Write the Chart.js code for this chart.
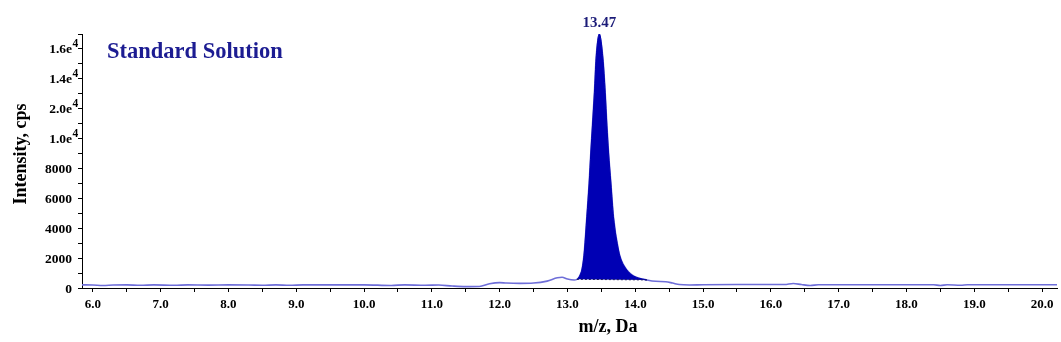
<!DOCTYPE html>
<html>
<head>
<meta charset="utf-8">
<title>Standard Solution</title>
<script src="https://cdn.jsdelivr.net/npm/chart.js@4.4.1/dist/chart.umd.min.js"></script>
<style>
  body { margin: 0; background: #fff; }
  #wrap { width: 1061px; height: 342px; }
</style>
</head>
<body>
<div id="wrap"><canvas id="spectrum"></canvas></div>
<script>
// trace outside the peak (m/z, intensity in cps)
const traceMz = [5.84, 6.0, 6.15, 6.3, 6.5, 6.7, 6.9, 7.2, 7.4, 7.7, 8.0, 8.3, 8.5, 8.7, 8.9, 9.1, 9.5,
  10.0, 10.4, 10.6, 10.9, 11.1, 11.3, 11.5, 11.7, 11.85, 12.0, 12.1, 12.3, 12.5, 12.7, 12.85, 12.92,
  13.0, 13.1, 13.139,
  14.171, 14.3, 14.45, 14.55, 14.65, 14.8, 15.0, 15.5, 16.0, 16.2, 16.33, 16.45, 16.58, 16.7, 17.0,
  17.5, 18.0, 18.4, 18.5, 18.6, 18.8, 18.9, 19.5, 20.0, 20.22];
const traceIntensity = [210, 200, 170, 200, 210, 180, 210, 180, 210, 190, 210, 200, 180, 210, 180, 210, 210,
  210, 170, 210, 180, 200, 130, 90, 100, 280, 360, 330, 310, 330, 460, 680, 720,
  600, 540, 580,
  540, 450, 420, 330, 230, 200, 220, 230, 230, 230, 300, 230, 170, 220, 220,
  220, 220, 220, 170, 220, 180, 220, 220, 220, 220];

// integrated peak
const peakMz = [13.139, 13.162, 13.187, 13.212, 13.236, 13.251, 13.286, 13.320, 13.345, 13.369, 13.398,
  13.423, 13.47, 13.522, 13.556, 13.581, 13.605, 13.640, 13.678, 13.752, 13.792, 13.876, 13.950,
  14.043, 14.171];
const peakIntensity = [580, 670, 870, 1200, 1870, 2540, 4770, 7020, 9100, 10900, 13100,
  15390, 17000, 15390, 13100, 10900, 9100, 7020, 4770, 2540, 1870, 1200, 870,
  670, 540];
const peakBaseMz = [13.139, 14.171];
const peakBaseIntensity = [580, 540];
const apexLabel = '13.47';

const yTickValues = [0, 2000, 4000, 6000, 8000, 10000, 12000, 14000, 16000];
const yTickLabels = ['0', '2000', '4000', '6000', '8000', '1.0e4', '2.0e4', '1.4e4', '1.6e4'];

const serif = '"Liberation Serif", "Times New Roman", serif';

function toPoints(xs, ys) {
  return xs.map((x, i) => ({ x: x, y: ys[i] }));
}

const tracePoints = toPoints(traceMz.slice(0, 36), traceIntensity.slice(0, 36))
  .concat(toPoints(peakMz, peakIntensity).slice(1, -1))
  .concat(toPoints(traceMz.slice(36), traceIntensity.slice(36)));

const labelsPlugin = {
  id: 'spectrumLabels',
  afterDraw(chart) {
    const { ctx, chartArea, scales: { x, y } } = chart;
    ctx.save();

    // y tick labels, exponent raised
    ctx.fillStyle = '#000';
    ctx.textAlign = 'left';
    ctx.textBaseline = 'alphabetic';
    yTickValues.forEach((v, i) => {
      const py = y.getPixelForValue(v) + 4.5;
      const parts = yTickLabels[i].split('e');
      const right = chartArea.left - 10;
      ctx.font = 'bold 13.5px ' + serif;
      const head = parts.length > 1 ? parts[0] + 'e' : parts[0];
      const w = ctx.measureText(head).width;
      ctx.fillText(head, right - w, py);
      if (parts.length > 1) {
        ctx.font = 'bold 11.5px ' + serif;
        ctx.fillText(parts[1], right + 0.5, py - 6);
      }
    });

    // axis titles
    ctx.font = 'bold 18px ' + serif;
    ctx.textAlign = 'center';
    ctx.textBaseline = 'middle';
    ctx.fillText('m/z, Da', 608, 327);
    ctx.save();
    ctx.translate(21, 154);
    ctx.rotate(-Math.PI / 2);
    ctx.fillText('Intensity, cps', 0, 0);
    ctx.restore();

    // sample name
    ctx.fillStyle = '#1c1c92';
    ctx.font = 'bold 22.5px ' + serif;
    ctx.textAlign = 'left';
    ctx.textBaseline = 'alphabetic';
    ctx.fillText('Standard Solution', 107, 58);

    // apex label
    ctx.fillStyle = '#1b1b78';
    ctx.font = 'bold 15px ' + serif;
    ctx.textAlign = 'center';
    ctx.fillText(apexLabel, x.getPixelForValue(parseFloat(apexLabel)), 27);

    ctx.restore();
  }
};

new Chart(document.getElementById('spectrum'), {
  type: 'line',
  data: {
    datasets: [
      {
        label: 'peak',
        data: toPoints(peakMz, peakIntensity),
        borderColor: '#0000b0',
        backgroundColor: '#0000b4',
        borderWidth: 1,
        pointRadius: 0,
        cubicInterpolationMode: 'monotone',
        fill: '+1',
        order: 1
      },
      {
        label: 'baseline',
        data: toPoints(peakBaseMz, peakBaseIntensity),
        borderColor: '#1a1a55',
        borderWidth: 1,
        borderDash: [2, 2],
        pointRadius: 0,
        fill: false,
        order: 0
      },
      {
        label: 'trace',
        data: tracePoints,
        borderColor: '#6e6ed8',
        borderWidth: 1.6,
        pointRadius: 0,
        cubicInterpolationMode: 'monotone',
        fill: false,
        order: 2
      }
    ]
  },
  options: {
    responsive: true,
    maintainAspectRatio: false,
    animation: false,
    layout: { padding: { top: 34, right: 4, left: 0, bottom: 0 } },
    plugins: {
      legend: { display: false },
      tooltip: { enabled: false }
    },
    scales: {
      x: {
        type: 'linear',
        min: 5.84,
        max: 20.22,
        border: { color: '#000', width: 1 },
        grid: { drawOnChartArea: false, drawTicks: true, tickLength: 4, color: '#000' },
        ticks: {
          stepSize: 0.5,
          includeBounds: false,
          autoSkip: false,
          maxRotation: 0,
          padding: 5,
          color: '#000',
          font: { family: serif, size: 13, weight: 'bold' },
          callback: v => Number.isInteger(v) ? v.toFixed(1) : ''
        },
        afterFit: s => { s.height = 54; }
      },
      y: {
        type: 'linear',
        min: 0,
        max: 17000,
        border: { color: '#000', width: 1 },
        grid: { drawOnChartArea: false, drawTicks: true, tickLength: 4, color: '#000' },
        ticks: {
          stepSize: 1000,
          includeBounds: false,
          autoSkip: false,
          callback: () => ''
        },
        afterFit: s => { s.width = 82; }
      }
    }
  },
  plugins: [labelsPlugin]
});
</script>
</body>
</html>
